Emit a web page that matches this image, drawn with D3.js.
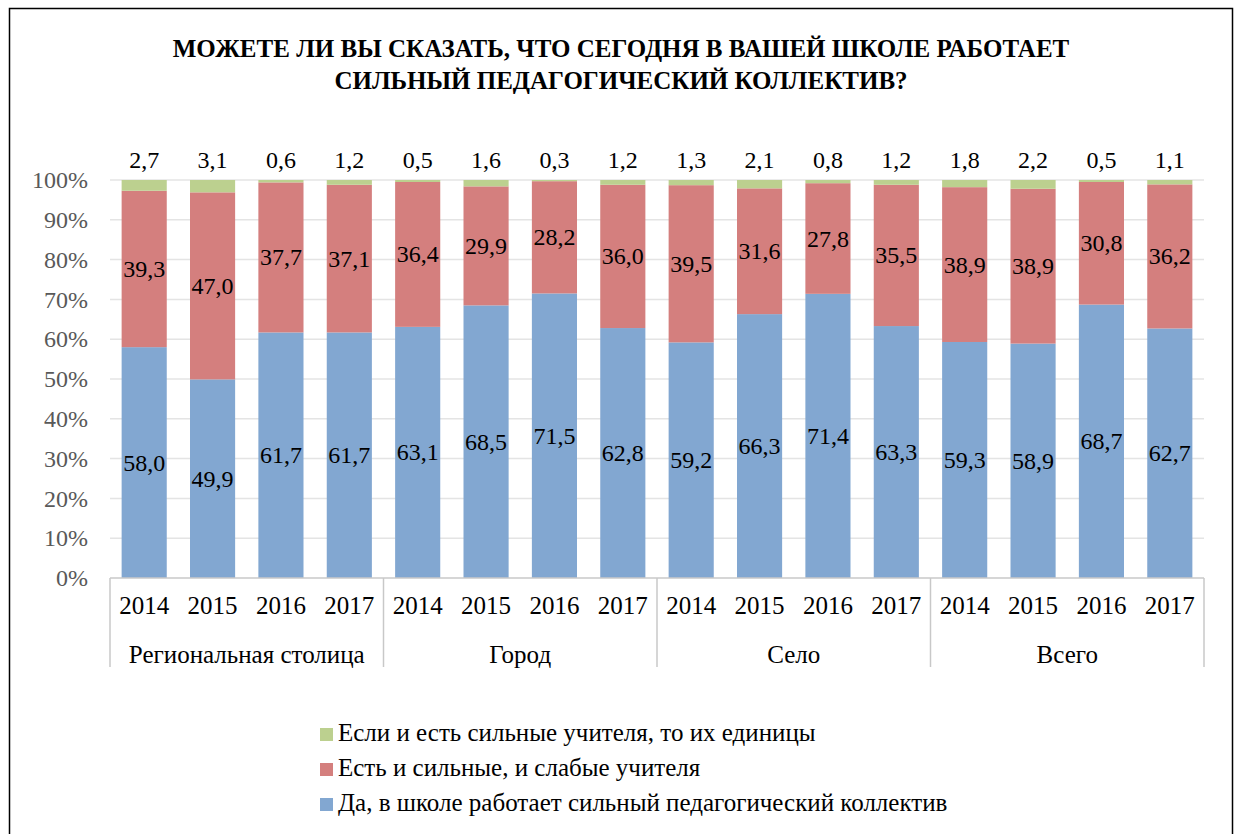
<!DOCTYPE html>
<html>
<head>
<meta charset="utf-8">
<script src="https://cdn.jsdelivr.net/npm/d3@7"></script>
<style>
  body { margin: 0; background: #fff; }
  text { font-family: "Liberation Serif", "DejaVu Serif", serif; }
</style>
</head>
<body>
<script>
// Данные
const groups = ['Региональная столица', 'Город', 'Село', 'Всего'];
const years = ['2014', '2015', '2016', '2017'];
const seriesNames = [
  'Да, в школе работает сильный педагогический коллектив',
  'Есть и сильные, и слабые учителя',
  'Если и есть сильные учителя, то их единицы'
];
const yes = [58.0, 49.9, 61.7, 61.7, 63.1, 68.5, 71.5, 62.8, 59.2, 66.3, 71.4, 63.3, 59.3, 58.9, 68.7, 62.7];
const mixed = [39.3, 47.0, 37.7, 37.1, 36.4, 29.9, 28.2, 36.0, 39.5, 31.6, 27.8, 35.5, 38.9, 38.9, 30.8, 36.2];
const few = [2.7, 3.1, 0.6, 1.2, 0.5, 1.6, 0.3, 1.2, 1.3, 2.1, 0.8, 1.2, 1.8, 2.2, 0.5, 1.1];
const yTicks = [0, 10, 20, 30, 40, 50, 60, 70, 80, 90, 100];
const titleLines = ['МОЖЕТЕ ЛИ ВЫ СКАЗАТЬ, ЧТО СЕГОДНЯ В ВАШЕЙ ШКОЛЕ РАБОТАЕТ', 'СИЛЬНЫЙ ПЕДАГОГИЧЕСКИЙ КОЛЛЕКТИВ?'];

const colors = ['#82a7d1', '#d47f7e', '#bcd08f'];
const W = 1235, H = 834;
const margin = { left: 110, right: 31, top: 180, bottom: 256 };
const FONT = '"Liberation Serif", "DejaVu Serif", serif';

const svg = d3.select('body').append('svg')
  .attr('width', W)
  .attr('height', H);

// рамка
svg.append('rect')
  .attr('x', 9.5).attr('y', 8.5)
  .attr('width', 1223).attr('height', 840)
  .attr('fill', 'none').attr('stroke', '#000').attr('stroke-width', 1.5);

// заголовок
svg.append('g').selectAll('text')
  .data(titleLines)
  .join('text')
  .attr('x', 621)
  .attr('y', (d, i) => 57 + i * 32)
  .attr('text-anchor', 'middle')
  .attr('font-size', 25)
  .attr('font-weight', 'bold')
  .text(d => d);

const cats = d3.range(yes.length);
const x = d3.scaleBand()
  .domain(cats)
  .range([margin.left, W - margin.right])
  .paddingInner(0.34)
  .paddingOuter(0.17);

const y = d3.scaleLinear()
  .domain([0, 100])
  .range([H - margin.bottom, margin.top]);

// сетка
svg.append('g').selectAll('line')
  .data(yTicks.slice(1))
  .join('line')
  .attr('x1', margin.left).attr('x2', W - margin.right)
  .attr('y1', d => y(d)).attr('y2', d => y(d))
  .attr('stroke', '#e4e4e4').attr('stroke-width', 1.5);

// ось Y
const yAxis = svg.append('g')
  .attr('transform', `translate(${margin.left},0)`)
  .call(d3.axisLeft(y).tickValues(yTicks).tickFormat(d => d + '%').tickSize(0).tickPadding(22));
yAxis.select('.domain').remove();
yAxis.selectAll('text')
  .style('font-family', FONT)
  .style('font-size', '24px')
  .attr('fill', '#595959');

// стек
const rows = cats.map(i => ({ i, yes: yes[i], mixed: mixed[i], few: few[i] }));
const stack = d3.stack().keys(['yes', 'mixed', 'few'])(rows);

const layers = svg.append('g').selectAll('g')
  .data(stack)
  .join('g')
  .attr('fill', (d, k) => colors[k]);

layers.selectAll('rect')
  .data(d => d)
  .join('rect')
  .attr('x', d => x(d.data.i))
  .attr('width', x.bandwidth())
  .attr('y', d => y(d[1]))
  .attr('height', d => y(d[0]) - y(d[1]));

// подписи
const fmt = v => v.toFixed(1).replace('.', ',');
stack.forEach((layer, k) => {
  svg.append('g').selectAll('text')
    .data(layer)
    .join('text')
    .attr('x', d => x(d.data.i) + x.bandwidth() / 2)
    .attr('y', d => k === 2 ? y(100) - 12 : y((d[0] + d[1]) / 2) + 8)
    .attr('text-anchor', 'middle')
    .attr('font-size', 24)
    .attr('fill', '#000')
    .text(d => fmt(d[1] - d[0]));
});

// ось X
const baseY = y(0);
svg.append('line')
  .attr('x1', margin.left).attr('x2', W - margin.right)
  .attr('y1', baseY).attr('y2', baseY)
  .attr('stroke', '#c8c8c8').attr('stroke-width', 1.5);

const groupW = (W - margin.right - margin.left) / groups.length;
svg.append('g').selectAll('line')
  .data(d3.range(groups.length + 1))
  .join('line')
  .attr('x1', d => margin.left + d * groupW).attr('x2', d => margin.left + d * groupW)
  .attr('y1', baseY).attr('y2', baseY + 89)
  .attr('stroke', '#c8c8c8').attr('stroke-width', 1.5);

svg.append('g').selectAll('text')
  .data(cats)
  .join('text')
  .attr('x', d => x(d) + x.bandwidth() / 2)
  .attr('y', baseY + 36)
  .attr('text-anchor', 'middle')
  .attr('font-size', 25)
  .text(d => years[d % years.length]);

svg.append('g').selectAll('text')
  .data(groups)
  .join('text')
  .attr('x', (d, g) => margin.left + (g + 0.5) * groupW)
  .attr('y', baseY + 85)
  .attr('text-anchor', 'middle')
  .attr('font-size', 25)
  .text(d => d);

// легенда
const legendItems = [2, 1, 0];
const leg = svg.append('g').selectAll('g')
  .data(legendItems)
  .join('g')
  .attr('transform', (d, i) => `translate(320,${728 + i * 35})`);
leg.append('rect')
  .attr('width', 13).attr('height', 13)
  .attr('fill', d => colors[d]);
leg.append('text')
  .attr('x', 18).attr('y', 13)
  .attr('font-size', 25)
  .text(d => seriesNames[d]);
</script>
</body>
</html>
